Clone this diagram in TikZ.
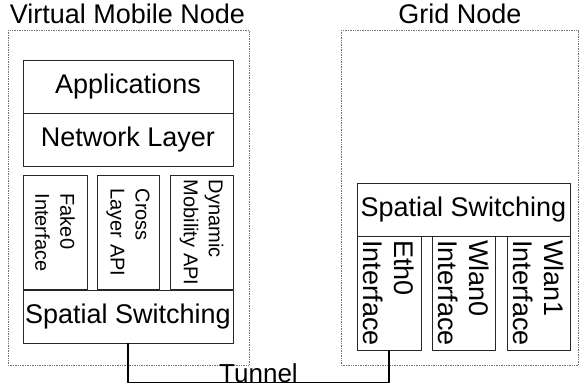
\documentclass[tikz,border=0pt]{standalone}
\usepackage{fontspec}
\setmainfont{Liberation Sans}
\begin{document}
\begin{tikzpicture}[x=1pt, y=-1pt, line join=round,
	big/.style={font=\fontsize{27}{31}\selectfont},
	small/.style={font=\fontsize{20}{25}\selectfont},
	layer/.style={draw=black!85, line width=0.8pt, inner sep=0pt, big},
	hbox/.style={layer, minimum width=210pt, minimum height=53pt},
	vbox/.style={layer, rotate=-90, align=left, minimum width=114pt, minimum height=64pt},
	host/.style={draw=black!55, densely dotted, line width=0.7pt},
	tunnel/.style={draw=black, line width=1.8pt}
	]
	\useasboundingbox (0,0) rectangle (579,385);
	% the two hosts
	\draw[host] (8,30) rectangle (249,365);
	\draw[host] (341,30) rectangle (578.5,365);
	\node[big] (vmn) at (127.5,14) {Virtual Mobile Node};
	\node[big] (grid) at (460,14) {Grid Node};
	% virtual mobile node stack
	\node[hbox] (app) at (128,86.5) {Applications};
	\node[hbox] (net) at (128,140) {Network Layer};
	\node[vbox, small, minimum height=64pt] (fake) at (55,232.5) {Fake0\\Interface};
	\node[vbox, small, minimum height=62pt] (xapi) at (128,232.5) {Cross\\Layer API};
	\node[vbox, small, minimum height=63pt] (dapi) at (201.5,232.5) {Dynamic\\Mobility API};
	\node[hbox] (spl) at (128,316.5) {Spatial Switching};
	% grid node stack (rotated: east is the bottom side)
	\node[hbox, minimum width=213pt] (spr) at (463.5,209.5) {Spatial Switching};
	\node[vbox] (eth) at (389,293) {Eth0\\Interface};
	\node[vbox, minimum height=63pt] (wl0) at (463.5,293) {Wlan0\\Interface};
	\node[vbox, minimum height=63pt] (wl1) at (538.5,293) {Wlan1\\Interface};
	% tunnel
	\draw[tunnel] (spl.south) -- ++(0,39) -| node[pos=0.25, anchor=base, inner sep=0pt, font=\fontsize{26}{30}\selectfont] (tun) {Tunnel} (eth.east);
\end{tikzpicture}
\end{document}
